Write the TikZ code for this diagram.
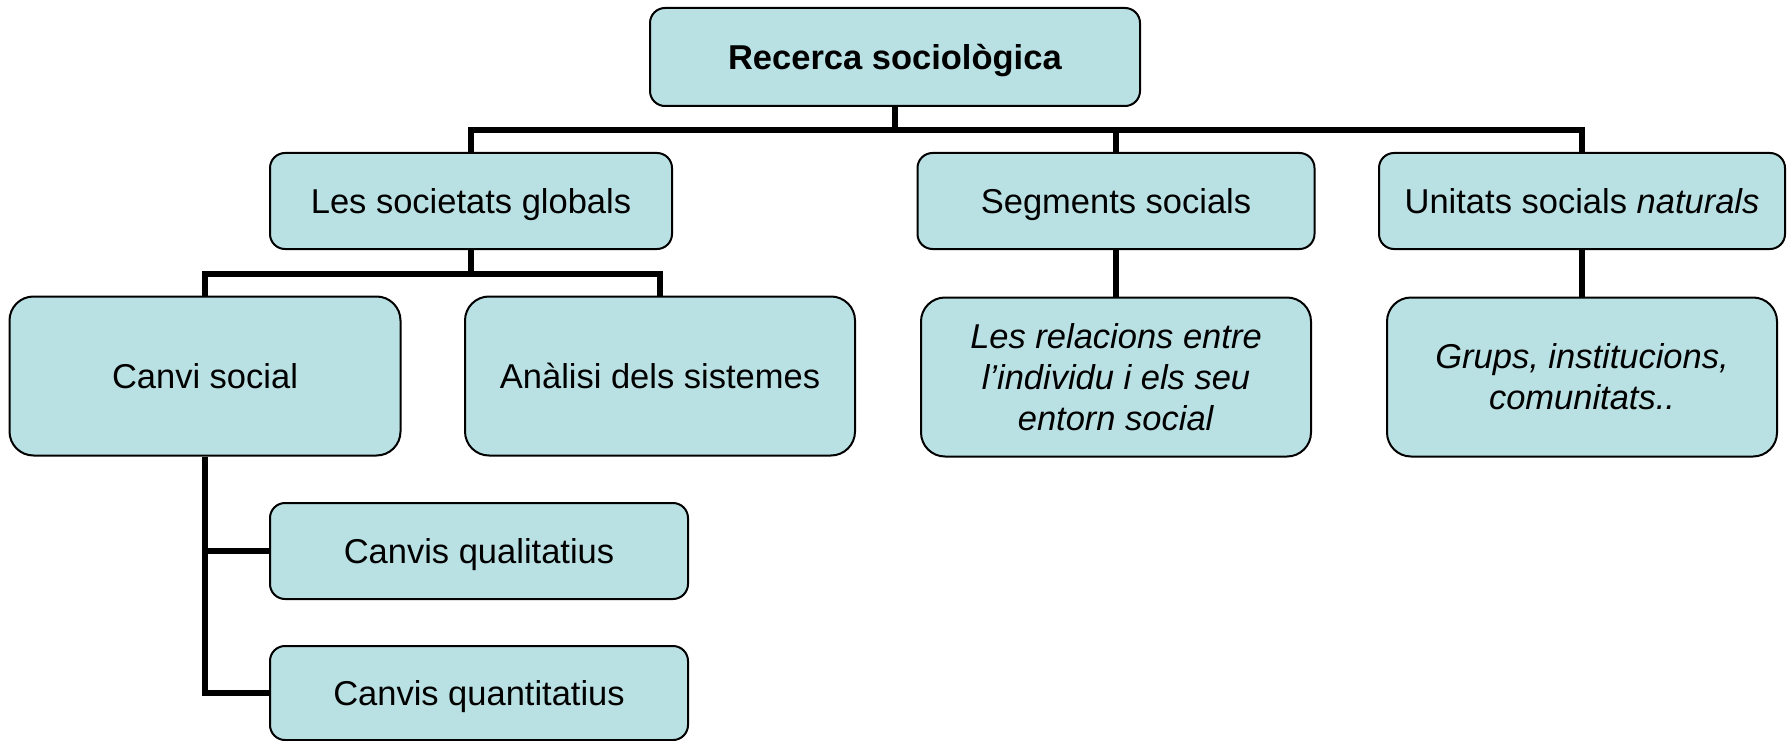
\documentclass[tikz,border=0pt]{standalone}
\usepackage{fontspec}
\setmainfont{Liberation Sans}
\usepackage{tikz}
\definecolor{boxblue}{RGB}{185,224,227}

\begin{document}
\begin{tikzpicture}[x=1pt,y=-1pt,node distance=100pt,
                    font=\fontsize{34.5}{41}\selectfont]
\tikzstyle{box}=[draw=black,line width=2pt,fill=boxblue,rounded corners=15pt,
                 align=center,inner sep=0pt,minimum height=96pt,
                 text height=25pt,text depth=0pt]
\tikzstyle{tall}=[box,rounded corners=24pt,minimum height=159pt,minimum width=390pt,
                  text height=,text depth=]
\tikzstyle{link}=[line width=6pt,draw=black]

\useasboundingbox (0,0) rectangle (1788,741);

\node[box,minimum width=490pt,minimum height=98pt]	(top)	at (895,57)	{\textbf{Recerca sociològica}};
\node[box,minimum width=402pt]	(soc)	at (471,201)	{Les societats globals};
\node[box,minimum width=397pt]	(seg)	[right of=soc,node distance=645pt]	{Segments socials};
\node[box,minimum width=406pt]	(uni)	[right of=seg,node distance=466pt]	{Unitats socials \textit{naturals}};
\node[tall,minimum width=391pt]	(canvi)	at (205,376)	{Canvi social};
\node[tall]	(anal)	[right of=canvi,node distance=455pt]	{Anàlisi dels sistemes};
\node[tall]	(rel)	[below of=seg,node distance=176pt]	{\textit{Les relacions entre}\\\textit{l’individu i els seu}\\\textit{entorn social}};
\node[tall]	(grups)	[below of=uni,node distance=176pt]	{\textit{Grups, institucions,}\\\textit{comunitats..}};
\node[box,minimum width=418pt]	(qual)	at (479,551)	{Canvis qualitatius};
\node[box,minimum width=418pt,minimum height=94pt]	(quant)	[below of=qual,node distance=142pt]	{Canvis quantitatius};

\path[link]	(top.south)	-- ++(0,23)	-| (soc.north)
	(top.south)	-- ++(0,23)	-| (seg.north)
	(top.south)	-- ++(0,23)	-| (uni.north)
	(soc.south)	-- ++(0,24)	-| (canvi.north)
	(soc.south)	-- ++(0,24)	-| (anal.north)
	(seg.south)	--	(rel.north)
	(uni.south)	--	(grups.north)
	(canvi.south)	|-	(qual.west)
	(canvi.south)	|-	(quant.west);

\end{tikzpicture}
\end{document}
